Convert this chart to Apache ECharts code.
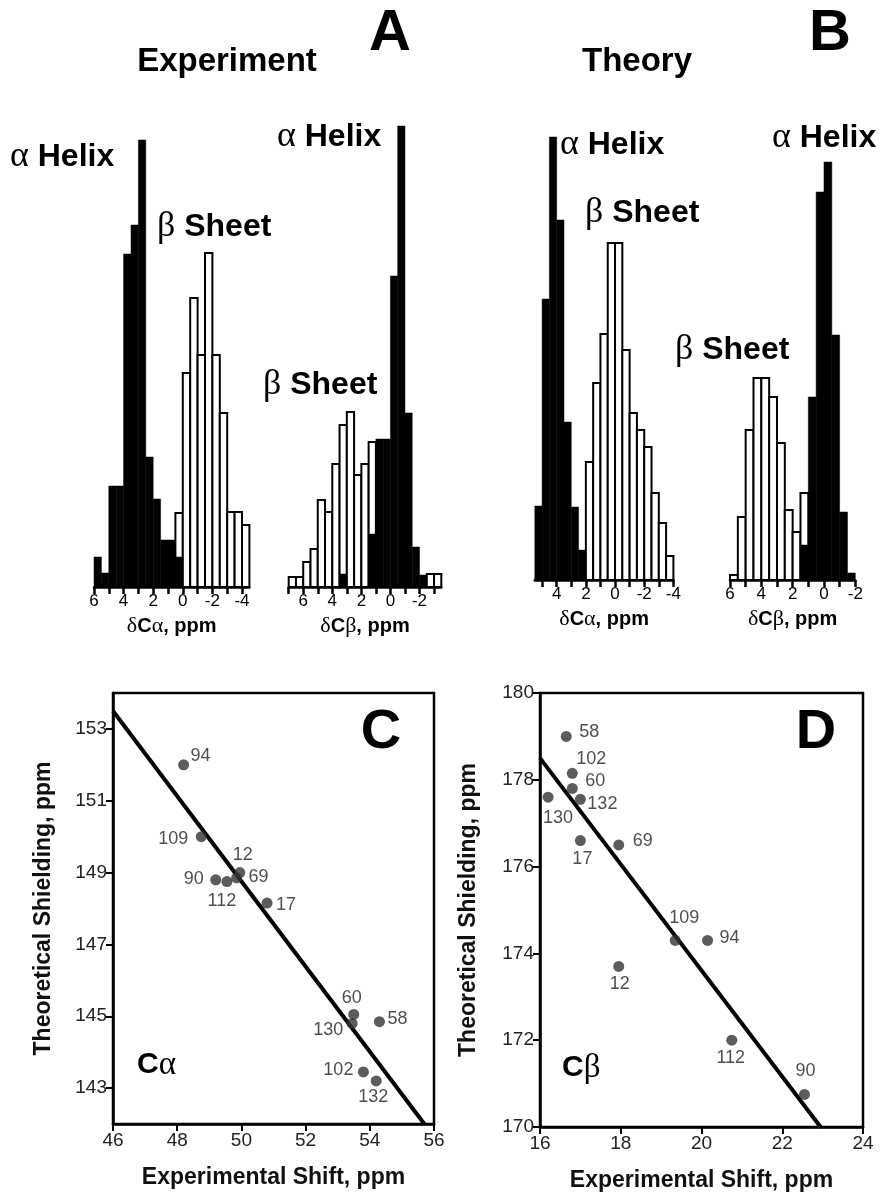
<!DOCTYPE html>
<html>
<head>
<meta charset="utf-8">
<script src="https://cdn.jsdelivr.net/npm/echarts@6/dist/echarts.min.js"></script>
<style>
  html, body { margin: 0; background: #fff; }
  #main { width: 884px; height: 1201px; }
</style>
</head>
<body>
<div id="main"></div>
<script>
const SANS = 'Liberation Sans, Arial, Helvetica, sans-serif';
const SERIF = 'Liberation Serif, Times New Roman, serif';

// histograms: bins 0.5 ppm wide, heights listed from the left (highest shift) edge
const binWidth = 0.5;

// A, experiment, delta C-alpha
const expCaStart = 6;
const expCaHelix = [30, 14, 101, 101, 333, 362, 447, 130, 88, 47, 47, 30, 0, 0, 0, 0, 0, 0, 0, 0, 0];
const expCaSheet = [0, 0, 0, 0, 0, 0, 0, 0, 0, 0, 0, 74, 214, 289, 232, 334, 232, 174, 75, 75, 62];
// A, experiment, delta C-beta
const expCbStart = 7;
const expCbHelix = [0, 0, 0, 0, 0, 0, 0, 13, 0, 0, 0, 53, 148, 148, 311, 461, 174, 40, 12, 0, 0];
const expCbSheet = [10, 10, 25, 38, 87, 75, 123, 162, 175, 112, 123, 145, 0, 0, 0, 0, 0, 0, 0, 13, 13];
// B, theory, delta C-alpha
const thCaStart = 5.5;
const thCaHelix = [74, 281, 443, 360, 158, 73, 30, 0, 0, 0, 0, 0, 0, 0, 0, 0, 0, 0, 0];
const thCaSheet = [0, 0, 0, 0, 0, 0, 0, 118, 197, 246, 337, 337, 230, 167, 150, 133, 87, 57, 24];
// B, theory, delta C-beta
const thCbStart = 6;
const thCbHelix = [0, 0, 0, 0, 0, 0, 0, 0, 0, 35, 183, 388, 418, 245, 68, 7];
const thCbSheet = [5, 63, 150, 202, 202, 183, 137, 70, 48, 87, 0, 0, 0, 0, 0, 0];

// scatter C: C-alpha
const caResidues = ['94', '109', '12', '69', '90', '112', '17', '60', '130', '58', '102', '132'];
const caExp = [48.2, 48.75, 49.95, 49.85, 49.2, 49.55, 50.8, 53.5, 53.45, 54.3, 53.8, 54.2];
const caTheory = [152.0, 150.0, 149.0, 148.85, 148.8, 148.75, 148.15, 145.05, 144.8, 144.85, 143.45, 143.2];
const caFit = [[46, 153.5], [55.7, 142]];

// scatter D: C-beta
const cbResidues = ['58', '102', '60', '132', '130', '17', '69', '109', '94', '12', '112', '90'];
const cbExp = [16.65, 16.8, 16.8, 17.0, 16.2, 17.0, 17.95, 19.35, 20.15, 17.95, 20.75, 22.55];
const cbTheory = [179.0, 178.15, 177.8, 177.55, 177.6, 176.6, 176.5, 174.3, 174.3, 173.7, 172.0, 170.75];
const cbFit = [[16, 178.5], [22.95, 170]];

// label offsets (px) for the residue numbers
const caLabelOffset = {
  '94': [17, -9], '109': [-28, 2], '12': [3, -18], '69': [22, -1], '90': [-22, -1], '112': [-5, 19],
  '17': [19, 2], '60': [-2, -16], '130': [-24, 7], '58': [18, -3], '102': [-25, -2], '132': [-3, 16]
};
const cbLabelOffset = {
  '58': [23, -4], '102': [19, -14], '60': [23, -7], '132': [22, 5], '130': [10, 21], '17': [2, 18],
  '69': [24, -4], '109': [9, -22], '94': [22, -2], '12': [1, 18], '112': [-1, 18], '90': [1, -23]
};

function bins(start, heights) {
  const out = [];
  heights.forEach((h, i) => {
    if (h > 0) out.push([start - binWidth * (i + 0.5), h]);
  });
  return out;
}

function barRenderer(fill, stroke, lw) {
  return function (params, api) {
    const x = api.value(0), h = api.value(1);
    const a = api.coord([x + binWidth / 2, h]);
    const b = api.coord([x - binWidth / 2, 0]);
    return {
      type: 'rect',
      shape: { x: Math.min(a[0], b[0]), y: a[1], width: Math.abs(b[0] - a[0]), height: b[1] - a[1] },
      style: { fill: fill, stroke: stroke, lineWidth: lw }
    };
  };
}

const greekRich = {
  g: { fontFamily: SERIF, fontSize: 22, color: '#000' },
  b: { fontFamily: SANS, fontSize: 20, fontWeight: 'bold', color: '#000' }
};

function histX(grid, min, max, ticks, labels, greek) {
  return {
    gridIndex: grid, type: 'value', min: min, max: max, inverse: true,
    axisLine: { show: true, onZero: false, lineStyle: { color: '#000', width: 2.5 } },
    axisTick: { show: true, customValues: ticks, length: 7, lineStyle: { color: '#000', width: 2.5 } },
    axisLabel: { customValues: labels, color: '#000', fontSize: 17, fontFamily: SANS, margin: 6 },
    splitLine: { show: false },
    name: '{g|δ}{b|C}{g|' + greek + '}{b|, ppm}',
    nameLocation: 'middle', nameGap: 28,
    nameTextStyle: { rich: greekRich }
  };
}

function histY(grid) {
  return { gridIndex: grid, type: 'value', min: 0, max: 470, show: false };
}

function histSeries(idx, start, helix, sheet) {
  return [
    { type: 'custom', xAxisIndex: idx, yAxisIndex: idx, z: 2, renderItem: barRenderer('#fff', '#000', 2),
      data: bins(start, sheet), silent: true, animation: false },
    { type: 'custom', xAxisIndex: idx, yAxisIndex: idx, z: 3, renderItem: barRenderer('#000', '#000', 0.5),
      data: bins(start, helix), silent: true, animation: false }
  ];
}

function range(a, b) {
  const out = [];
  for (let v = a; v >= b; v--) out.push(v);
  return out;
}

function scatterX(grid, min, max) {
  return {
    gridIndex: grid, type: 'value', min: min, max: max, interval: 2,
    axisLine: { show: true, onZero: false, lineStyle: { color: '#000', width: 2.5 } },
    axisTick: { show: true, length: 7, lineStyle: { color: '#000', width: 2 } },
    axisLabel: { color: '#222', fontSize: 19, fontFamily: SANS, margin: 7 },
    splitLine: { show: false },
    name: 'Experimental Shift, ppm', nameLocation: 'middle', nameGap: 42,
    nameTextStyle: { fontFamily: SANS, fontWeight: 'bold', fontSize: 23, color: '#111' }
  };
}

function scatterY(grid, min, max, ticks, gap) {
  return {
    gridIndex: grid, type: 'value', min: min, max: max,
    axisLine: { show: true, onZero: false, lineStyle: { color: '#000', width: 2.5 } },
    axisTick: { show: true, customValues: ticks, length: 7, lineStyle: { color: '#000', width: 2 } },
    axisLabel: { customValues: ticks, color: '#222', fontSize: 19, fontFamily: SANS, margin: 6 },
    splitLine: { show: false },
    name: 'Theoretical Shielding, ppm', nameLocation: 'middle', nameGap: gap,
    nameTextStyle: { fontFamily: SANS, fontWeight: 'bold', fontSize: 23, color: '#111' }
  };
}

function scatterSeries(idx, names, xs, ys, offsets, fit) {
  return [
    { type: 'line', xAxisIndex: idx, yAxisIndex: idx, data: fit, symbol: 'none', z: 3,
      lineStyle: { color: '#000', width: 4 }, animation: false, silent: true },
    { type: 'scatter', xAxisIndex: idx, yAxisIndex: idx, symbolSize: 11, z: 4,
      itemStyle: { color: '#333' }, animation: false, silent: true,
      data: names.map((n, i) => ({
        name: n, value: [xs[i], ys[i]],
        label: { offset: offsets[n] }
      })),
      label: { show: true, position: 'inside', formatter: '{b}', color: '#222',
        fontFamily: SANS, fontSize: 18 } }
  ];
}

function text(x, y, str, style) {
  return { type: 'text', x: x, y: y, silent: true,
    style: Object.assign({ text: str, fill: '#000', textVerticalAlign: 'middle' }, style) };
}

const bigRich = {
  g: { fontFamily: SERIF, fontSize: 36, color: '#000' },
  b: { fontFamily: SANS, fontSize: 32, fontWeight: 'bold', color: '#000' }
};
const panelRich = {
  g: { fontFamily: SERIF, fontSize: 33, color: '#000' },
  b: { fontFamily: SANS, fontSize: 30, fontWeight: 'bold', color: '#000' }
};

const option = {
  backgroundColor: '#fff',
  animation: false,
  grid: [
    { left: 94, right: 634.6, top: 117, bottom: 614 },
    { left: 288.7, right: 442.7, top: 117, bottom: 614 },
    { left: 534.8, right: 210.6, top: 110, bottom: 621 },
    { left: 730, right: 28.7, top: 110, bottom: 621 },
    { left: 113, right: 450, top: 693, bottom: 77, show: true, borderColor: '#000', borderWidth: 2.5 },
    { left: 540, right: 21, top: 693, bottom: 74, show: true, borderColor: '#000', borderWidth: 2.5 }
  ],
  xAxis: [
    histX(0, -4.5, 6, range(6, -4), [6, 4, 2, 0, -2, -4], 'α'),
    histX(1, -3.5, 7, range(7, -3), [6, 4, 2, 0, -2], 'β'),
    histX(2, -4, 5.5, range(5, -4), [4, 2, 0, -2, -4], 'α'),
    histX(3, -2, 6, range(6, -2), [6, 4, 2, 0, -2], 'β'),
    scatterX(4, 46, 56),
    scatterX(5, 16, 24)
  ],
  yAxis: [
    histY(0), histY(1), histY(2), histY(3),
    scatterY(4, 142, 154, [143, 145, 147, 149, 151, 153], 58),
    scatterY(5, 170, 180, [170, 172, 174, 176, 178, 180], 60)
  ],
  series: [].concat(
    histSeries(0, expCaStart, expCaHelix, expCaSheet),
    histSeries(1, expCbStart, expCbHelix, expCbSheet),
    histSeries(2, thCaStart, thCaHelix, thCaSheet),
    histSeries(3, thCbStart, thCbHelix, thCbSheet),
    scatterSeries(4, caResidues, caExp, caTheory, caLabelOffset, caFit),
    scatterSeries(5, cbResidues, cbExp, cbTheory, cbLabelOffset, cbFit)
  ),
  graphic: [
    text(227, 62, 'Experiment', { font: 'bold 33px ' + SANS, textAlign: 'center' }),
    text(390, 34, 'A', { font: 'bold 58px ' + SANS, textAlign: 'center' }),
    text(637, 62, 'Theory', { font: 'bold 33px ' + SANS, textAlign: 'center' }),
    text(830, 34, 'B', { font: 'bold 58px ' + SANS, textAlign: 'center' }),
    text(10, 157, '{g|α}{b| Helix}', { rich: bigRich }),
    text(157, 227, '{g|β}{b| Sheet}', { rich: bigRich }),
    text(277, 137, '{g|α}{b| Helix}', { rich: bigRich }),
    text(263, 385, '{g|β}{b| Sheet}', { rich: bigRich }),
    text(560, 145, '{g|α}{b| Helix}', { rich: bigRich }),
    text(585, 213, '{g|β}{b| Sheet}', { rich: bigRich }),
    text(772, 138, '{g|α}{b| Helix}', { rich: bigRich }),
    text(675, 350, '{g|β}{b| Sheet}', { rich: bigRich }),
    text(381, 733, 'C', { font: 'bold 56px ' + SANS, textAlign: 'center' }),
    text(816, 733, 'D', { font: 'bold 56px ' + SANS, textAlign: 'center' }),
    text(137, 1065, '{b|C}{g|α}', { rich: panelRich }),
    text(562, 1068, '{b|C}{g|β}', { rich: panelRich })
  ]
};

const chart = echarts.init(document.getElementById('main'), null, { renderer: 'canvas' });
chart.setOption(option);
</script>
</body>
</html>
